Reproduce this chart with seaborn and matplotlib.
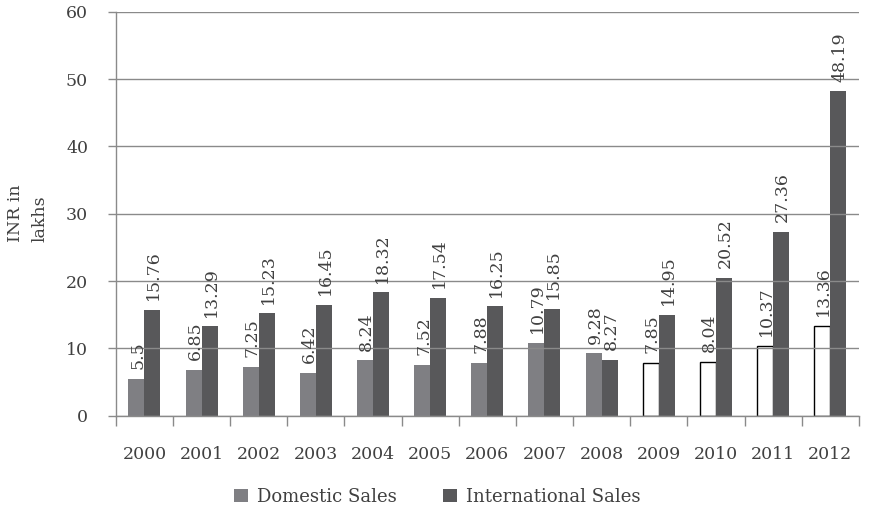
import matplotlib
matplotlib.use("Agg")
import matplotlib.pyplot as plt
import seaborn as sns
import pandas as pd
from matplotlib.patches import Patch

years = ["2000", "2001", "2002", "2003", "2004", "2005", "2006",
         "2007", "2008", "2009", "2010", "2011", "2012"]
domestic = [5.5, 6.85, 7.25, 6.42, 8.24, 7.52, 7.88, 10.79, 9.28, 7.85, 8.04, 10.37, 13.36]
international = [15.76, 13.29, 15.23, 16.45, 18.32, 17.54, 16.25, 15.85, 8.27, 14.95, 20.52, 27.36, 48.19]
series_names = ["Domestic Sales", "International Sales"]
hollow_from = "2009"  # domestic bars from this year on are drawn unfilled

dom_color = "#7f7f83"
int_color = "#58585a"
text_color = "#404040"
grid_color = "#8a8a8a"
fs = 12.5

sns.set_theme(style="white")
plt.rcParams["font.family"] = ["DejaVu Serif", "DejaVu Sans"]

df = pd.DataFrame({
    "Year": years * 2,
    "Series": [series_names[0]] * len(years) + [series_names[1]] * len(years),
    "Value": domestic + international,
})

fig = plt.figure(figsize=(8.71, 5.14), dpi=100)
ax = fig.add_axes([0.133, 0.191, 0.853, 0.786])

sns.barplot(data=df, x="Year", y="Value", hue="Series", order=years,
            hue_order=series_names, palette=[dom_color, int_color],
            width=0.56, saturation=1, ax=ax, legend=False, linewidth=0)

# Hollow domestic bars for later years
dom_container, int_container = ax.containers[0], ax.containers[1]
start = years.index(hollow_from)
for i, bar in enumerate(dom_container.patches):
    if i >= start:
        bar.set_facecolor("white")
        bar.set_edgecolor("black")
        bar.set_linewidth(1.0)

# Value labels, rotated
for container, vals in ((dom_container, domestic), (int_container, international)):
    for bar, v in zip(container.patches, vals):
        label = f"{v:g}"
        ax.annotate(label, (bar.get_x() + bar.get_width() / 2, bar.get_height()),
                    xytext=(1, 7), textcoords="offset points",
                    rotation=90, ha="center", va="bottom",
                    fontsize=fs, color=text_color)

ax.set_ylim(0, 60)
ax.set_xlim(-0.5, len(years) - 0.5)
ax.set_yticks(range(0, 61, 10))
ax.yaxis.grid(True, color=grid_color, linewidth=1.0, zorder=5)
ax.set_axisbelow(False)
ax.tick_params(axis="y", length=6, color=grid_color, width=1.0, pad=14,
               labelsize=fs, labelcolor=text_color, left=True)

# Category boundaries as tick marks, year labels centred between them
ax.set_xticks(range(len(years)))
ax.set_xticklabels(years)
ax.tick_params(axis="x", which="major", length=0, pad=22,
               labelsize=fs, labelcolor=text_color)
ax.set_xticks([i - 0.5 for i in range(len(years) + 1)], minor=True)
ax.tick_params(axis="x", which="minor", length=7, color=grid_color,
               width=1.0, bottom=True)

for side in ("top", "right"):
    ax.spines[side].set_visible(False)
for side in ("left", "bottom"):
    ax.spines[side].set_color(grid_color)
    ax.spines[side].set_linewidth(1.0)

ax.set_xlabel("")
ax.set_ylabel("")
fig.text(0.008, 0.585, "INR in\nlakhs", rotation=90, ha="left", va="center",
         multialignment="left", fontsize=fs, color=text_color,
         linespacing=1.6)

handles = [Patch(facecolor=dom_color, edgecolor="none"),
           Patch(facecolor=int_color, edgecolor="none")]
fig.legend(handles, series_names, loc="center", bbox_to_anchor=(0.502, 0.033),
           ncol=2, frameon=False, fontsize=13, labelcolor=text_color,
           handlelength=0.75, handleheight=0.75, handletextpad=0.5,
           columnspacing=2.6)

fig.savefig("out.png", dpi=100)
